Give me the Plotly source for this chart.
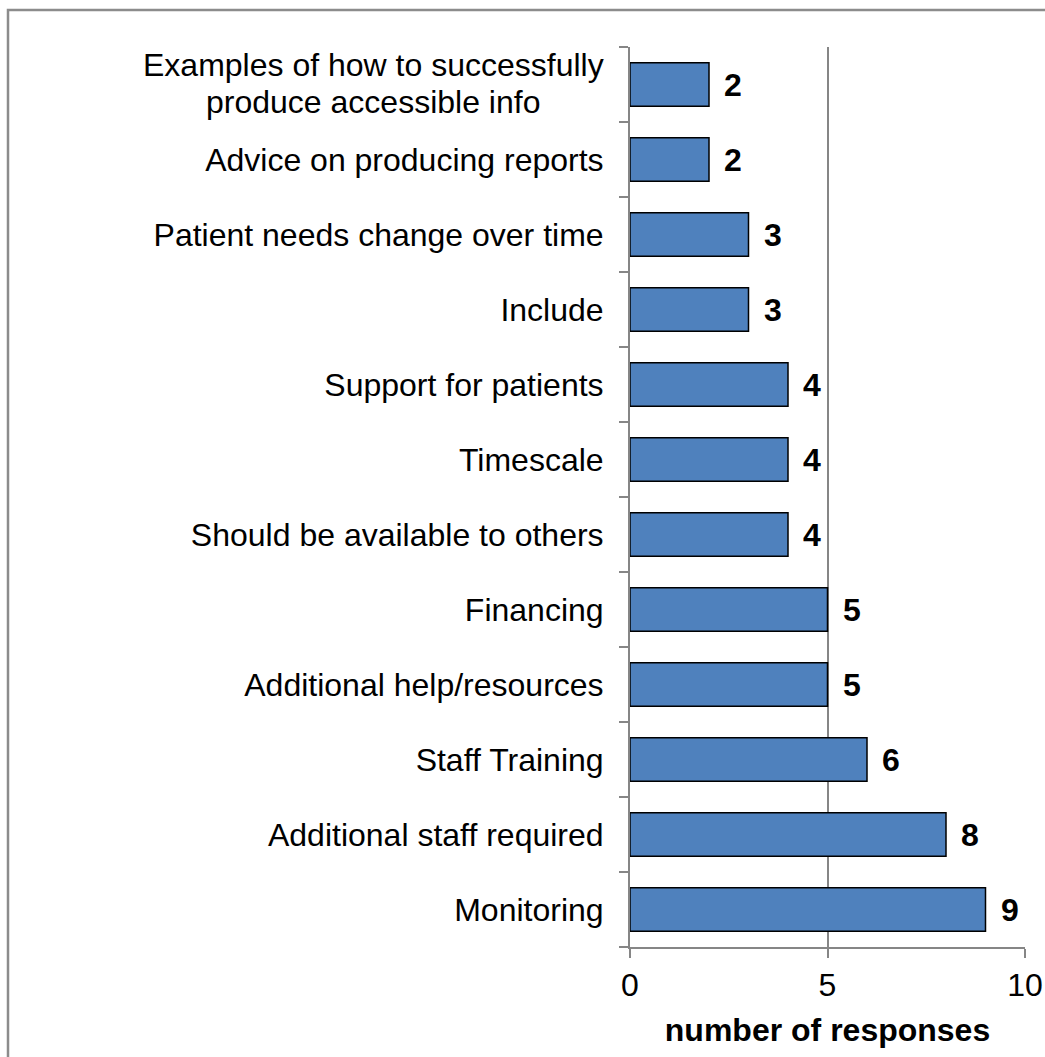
import plotly.graph_objects as go

categories = [
    "Examples of how to successfully<br>produce accessible info",
    "Advice on producing reports",
    "Patient needs change over time",
    "Include",
    "Support for patients",
    "Timescale",
    "Should be available to others",
    "Financing",
    "Additional help/resources",
    "Staff Training",
    "Additional staff required",
    "Monitoring",
]
values = [2, 2, 3, 3, 4, 4, 4, 5, 5, 6, 8, 9]
x_ticks = [0, 5, 10]

FONT = "Liberation Sans, Arial, sans-serif"
FS = 32

W, H = 1045, 1057
L, R, T, B = 630, 20, 47, 110
PW, PH = W - L - R, H - T - B

fig = go.Figure()
fig.add_trace(go.Bar(
    y=categories, x=values, orientation="h",
    marker=dict(color="#4F81BD", line=dict(color="#000000", width=1.5)),
    width=0.58, hoverinfo="skip",
))

ticktext = ["" if "<br>" in c else c for c in categories]

annotations = []
for c, v in zip(categories, values):
    annotations.append(dict(x=v, y=c, xref="x", yref="y", text="<b>%d</b>" % v,
                            showarrow=False, xanchor="left", xshift=13,
                            font=dict(family=FONT, size=FS, color="#000")))
for c in categories:
    if "<br>" in c:
        lines = c.split("<br>")
        n = len(lines)
        step = 37
        for i, line in enumerate(lines):
            annotations.append(dict(x=0, y=c, xref="paper", yref="y", text=line,
                                    showarrow=False, xanchor="center",
                                    xshift=-(27 + 230),
                                    yshift=(n - 1) / 2 * step - i * step + 1,
                                    font=dict(family=FONT, size=FS, color="#000")))

fig.update_layout(
    width=W, height=H,
    margin=dict(l=L, r=R, t=T, b=B),
    paper_bgcolor="white", plot_bgcolor="white",
    showlegend=False,
    font=dict(family=FONT, size=FS, color="#000"),
    annotations=annotations,
    xaxis=dict(range=[0, 10], tickvals=x_ticks, ticks="outside", ticklen=9,
               tickcolor="#868686", tickwidth=2, automargin=False,
               ticklabeloverflow="allow",
               showline=True, linecolor="#868686", linewidth=2,
               showgrid=True, gridcolor="#868686", gridwidth=1.5, zeroline=False,
               tickfont=dict(size=FS),
               title=dict(text="<b>number of responses</b>", font=dict(size=FS), standoff=16)),
    yaxis=dict(autorange="reversed", type="category", tickmode="array",
               tickvals=categories, ticktext=ticktext, automargin=False,
               ticks="outside", ticklen=9, tickcolor="#868686", tickwidth=2,
               tickson="boundaries",
               showline=True, linecolor="#868686", linewidth=2, showgrid=False,
               tickfont=dict(size=FS), ticklabelstandoff=18),
    shapes=[dict(type="rect", xref="paper", yref="paper",
                 x0=(8 - L) / PW, x1=(W + 20 - L) / PW,
                 y0=-(B + 20) / PH, y1=1 + (T - 10) / PH,
                 line=dict(color="#8c8c8c", width=2.5), fillcolor="rgba(0,0,0,0)",
                 layer="below")],
)

fig.write_html("out.html", config={"displayModeBar": False},
               post_script="document.body.style.margin='0';document.body.style.overflow='hidden';")
